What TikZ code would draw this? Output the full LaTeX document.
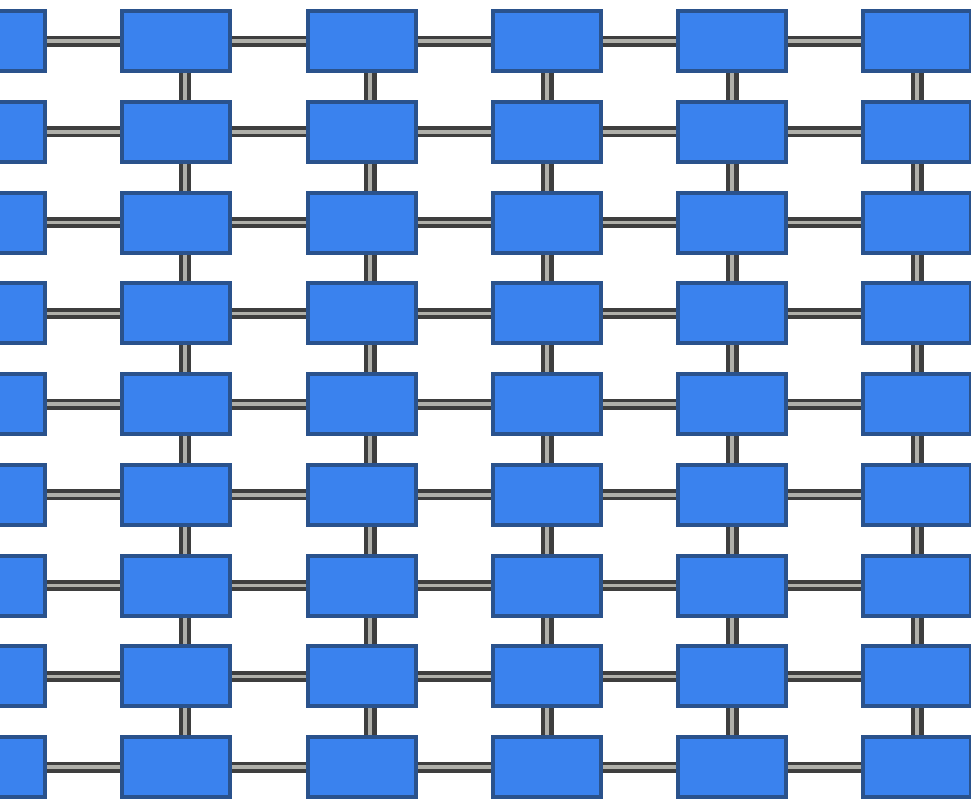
\documentclass[tikz,border=0pt]{standalone}
\usepackage{tikz}

\definecolor{cellfill}{RGB}{58,130,238}
\definecolor{cellline}{RGB}{42,82,140}
\definecolor{linkdark}{RGB}{62,62,62}
\definecolor{linklight}{RGB}{176,176,170}

\tikzset{
  cell/.style={draw=cellline,fill=cellfill,line width=0.08cm,
    minimum width=2.16cm,minimum height=1.2cm,inner sep=0pt},
  link/.style={draw=linkdark,line width=0.075cm,double=linklight,double distance=0.07cm},
  vlink/.style={draw=linkdark,line width=0.085cm,double=linklight,double distance=0.09cm}
}

\begin{document}
\begin{tikzpicture}[x=0.02cm,y=-0.02cm]
\path[use as bounding box] (0,0) rectangle (971,802);
\fill[white] (0,0) rectangle (971,802);
% boxes
\foreach \c/\x in {0/-9,1/176,2/362,3/547,4/732,5/917}
  \foreach \r in {0,...,8}
    \node[cell] (b-\c-\r) at (\x,{41+90.75*\r}) {};
% rows
\foreach \c/\n in {0/1,1/2,2/3,3/4,4/5}
  \foreach \r in {0,...,8}
    \draw[link] (b-\c-\r.east) -- (b-\n-\r.west);
% columns
\foreach \c/\dx in {1/0.18cm,2/0.16cm,3/0cm,4/0cm,5/0cm}
  \foreach \r/\n in {0/1,1/2,2/3,3/4,4/5,5/6,6/7,7/8}
    \draw[vlink] ([xshift=\dx]b-\c-\r.south) -- ([xshift=\dx]b-\c-\n.north);
\end{tikzpicture}
\end{document}
